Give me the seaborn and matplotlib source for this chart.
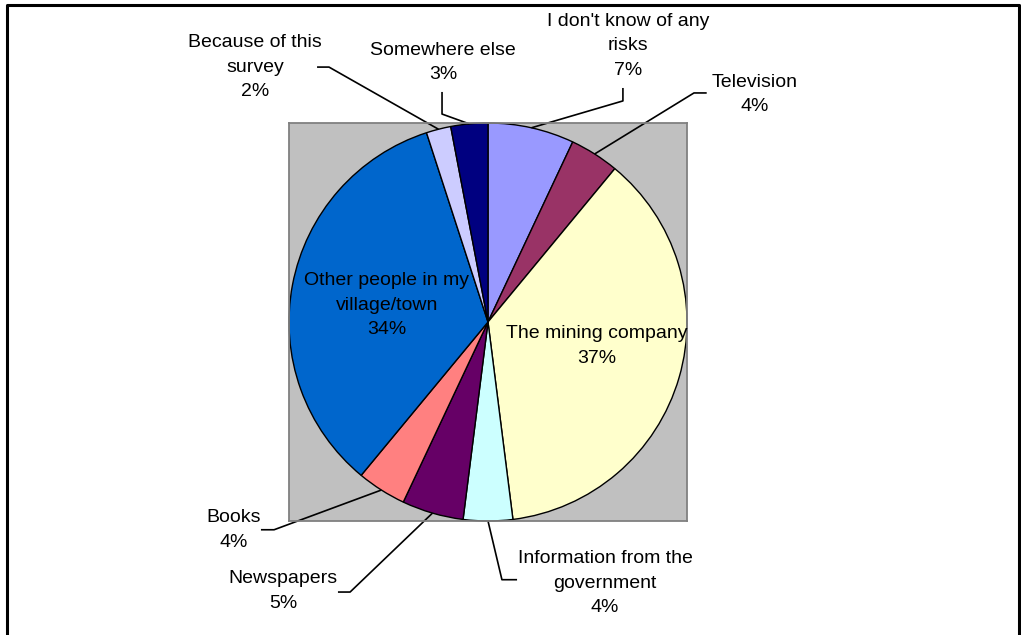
import numpy as np
import matplotlib
matplotlib.use('Agg')
import matplotlib.pyplot as plt
import seaborn as sns
from matplotlib.lines import Line2D

# slices, clockwise from 12 o'clock
sources = ["I don't know of any\nrisks", 'Television', 'The mining company',
           'Information from the\ngovernment', 'Newspapers', 'Books',
           'Other people in my\nvillage/town', 'Because of this\nsurvey', 'Somewhere else']
shares = [7, 4, 37, 4, 5, 4, 34, 2, 3]
slice_colors = ['#9999FF', '#993366', '#FFFFCC', '#CCFFFF', '#660066',
                '#FF8080', '#0066CC', '#CCCCFF', '#000080']

# label placement (data units of the pie, radius = 1)
label_xy = [(0.704, 1.387), (1.342, 1.143), (0.548, -0.121), (0.588, -1.312),
            (-1.030, -1.352), (-1.276, -1.045), (-0.508, 0.085), (-1.171, 1.281),
            (-0.226, 1.304)]
# leader lines: (end, elbow) or None for labels inside the pie
leaders = [((0.678, 1.176), (0.678, 1.111)),
           ((1.099, 1.151), (1.035, 1.151)),
           None,
           ((0.146, -1.295), (0.070, -1.295)),
           ((-0.754, -1.357), (-0.693, -1.357)),
           ((-1.141, -1.044), (-1.075, -1.044)),
           None,
           ((-0.859, 1.281), (-0.799, 1.281)),
           ((-0.231, 1.156), (-0.231, 1.045))]

sns.set_theme(style='white')
plt.rcParams['font.family'] = ['Liberation Sans', 'DejaVu Sans']

fig = plt.figure(figsize=(10.21, 6.35), dpi=100)
fig.patch.set_facecolor('white')
ax = fig.add_axes([289 / 1021, 114 / 635, 398 / 1021, 398 / 635])

palette = sns.color_palette(slice_colors)
wedges, _ = ax.pie(shares, colors=palette, startangle=90, counterclock=False,
                   radius=1.0, wedgeprops=dict(edgecolor='black', linewidth=1.0))
ax.set_xlim(-1, 1)
ax.set_ylim(-1, 1)
ax.set_facecolor('#C0C0C0')
ax.set_frame_on(True)
for sp in ax.spines.values():
    sp.set_visible(True)
    sp.set_color('#808080')
    sp.set_linewidth(1.3)
ax.set_xticks([])
ax.set_yticks([])

for w, name, val, pos, lead in zip(wedges, sources, shares, label_xy, leaders):
    ax.text(pos[0], pos[1], f'{name}\n{val}%', ha='center', va='center',
            fontsize=14, linespacing=1.6, color='black', clip_on=False)
    if lead is None:
        continue
    mid = np.deg2rad((w.theta1 + w.theta2) / 2)
    anchor = (np.cos(mid), np.sin(mid))
    xs = [lead[0][0], lead[1][0], anchor[0]]
    ys = [lead[0][1], lead[1][1], anchor[1]]
    ax.plot(xs, ys, color='black', linewidth=1.2, clip_on=False, solid_capstyle='butt')

# chart-area border (open at the bottom edge of the image)
bx0, bx1, by1 = 7 / 1021, 1019 / 1021, 1 - 5 / 635
fig.add_artist(Line2D([bx0, bx0, bx1, bx1], [-0.02, by1, by1, -0.02],
                      transform=fig.transFigure, color='black', linewidth=2.2))

fig.savefig('out.png', dpi=100)
